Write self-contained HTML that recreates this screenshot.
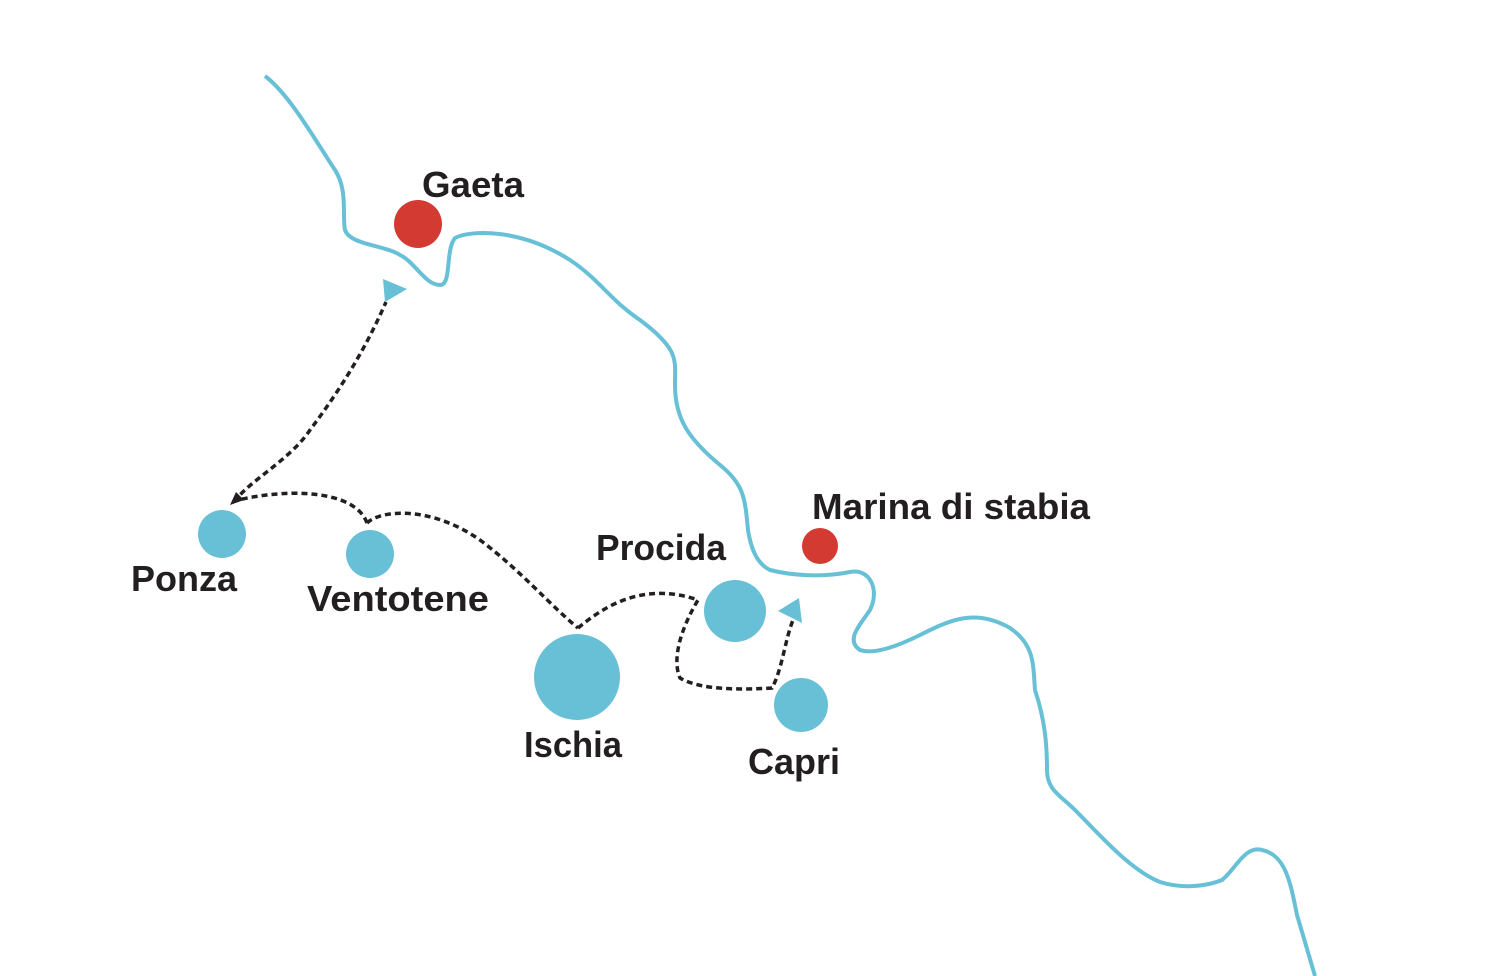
<!DOCTYPE html>
<html><head><style>html,body{margin:0;padding:0;background:#fff}svg{display:block}
text{font-family:"Liberation Sans",sans-serif;font-weight:bold;font-size:36px;fill:#231f20}</style></head>
<body>
<svg width="1510" height="976" viewBox="0 0 1510 976">
<path d="M265,76 C290,95 315,140 335,170 C348,190 342,215 345,230 C350,245 385,245 400,255 C415,262 425,285 440,285 C452,285 445,250 455,238 C470,230 520,228 570,260 C600,280 610,300 640,320 C680,350 675,360 675,385 C675,420 690,440 720,465 C745,485 745,500 748,530 C752,555 760,565 770,570 C790,575 820,578 850,572 C870,568 880,590 870,610 C860,625 845,640 860,650 C875,655 900,645 920,635 C950,620 975,608 1010,628 C1035,645 1033,665 1035,690 C1045,720 1047,745 1047,770 C1047,790 1060,795 1075,810 C1100,835 1130,870 1160,882 C1185,890 1210,885 1222,880 C1235,870 1245,845 1262,850 C1285,855 1290,880 1297,915 L1315,976" fill="none" stroke="#67c0d6" stroke-width="4"/>
<g fill="none" stroke="#231f20" stroke-width="3.5" stroke-dasharray="6,4">
<path d="M234,502 C250,480 290,460 310,430 C340,390 365,350 386,302"/>
<path d="M367,523 C355,490 290,488 238,500"/>
<path d="M367,523 C380,510 430,505 480,540 C520,570 550,605 578,628"/>
<path d="M578,628 C600,610 640,580 698,600 C680,630 672,660 680,678 C700,690 740,690 772,688 C782,670 785,640 793,620"/>
</g>
<polygon points="230,505 236,492 244,500" fill="#231f20"/>
<polygon points="383,279 407,289 385,302" fill="#67c0d6"/>
<polygon points="778,611 799,598 802,623" fill="#67c0d6"/>
<g fill="#67c0d6">
<circle cx="222" cy="534" r="24"/>
<circle cx="370" cy="554" r="24"/>
<circle cx="577" cy="677" r="43"/>
<circle cx="735" cy="611" r="31"/>
<circle cx="801" cy="705" r="27"/>
</g>
<circle cx="418" cy="224" r="24" fill="#d33a31"/>
<circle cx="820" cy="546" r="18" fill="#d33a31"/>
<text x="422" y="197" textLength="102" lengthAdjust="spacingAndGlyphs">Gaeta</text>
<text x="812" y="519" textLength="278" lengthAdjust="spacingAndGlyphs">Marina di stabia</text>
<text x="596" y="560" textLength="130" lengthAdjust="spacingAndGlyphs">Procida</text>
<text x="131" y="591" textLength="106" lengthAdjust="spacingAndGlyphs">Ponza</text>
<text x="307" y="611" textLength="182" lengthAdjust="spacingAndGlyphs">Ventotene</text>
<text x="524" y="757" textLength="98" lengthAdjust="spacingAndGlyphs">Ischia</text>
<text x="748" y="774" textLength="92" lengthAdjust="spacingAndGlyphs">Capri</text>
</svg>
</body></html>
